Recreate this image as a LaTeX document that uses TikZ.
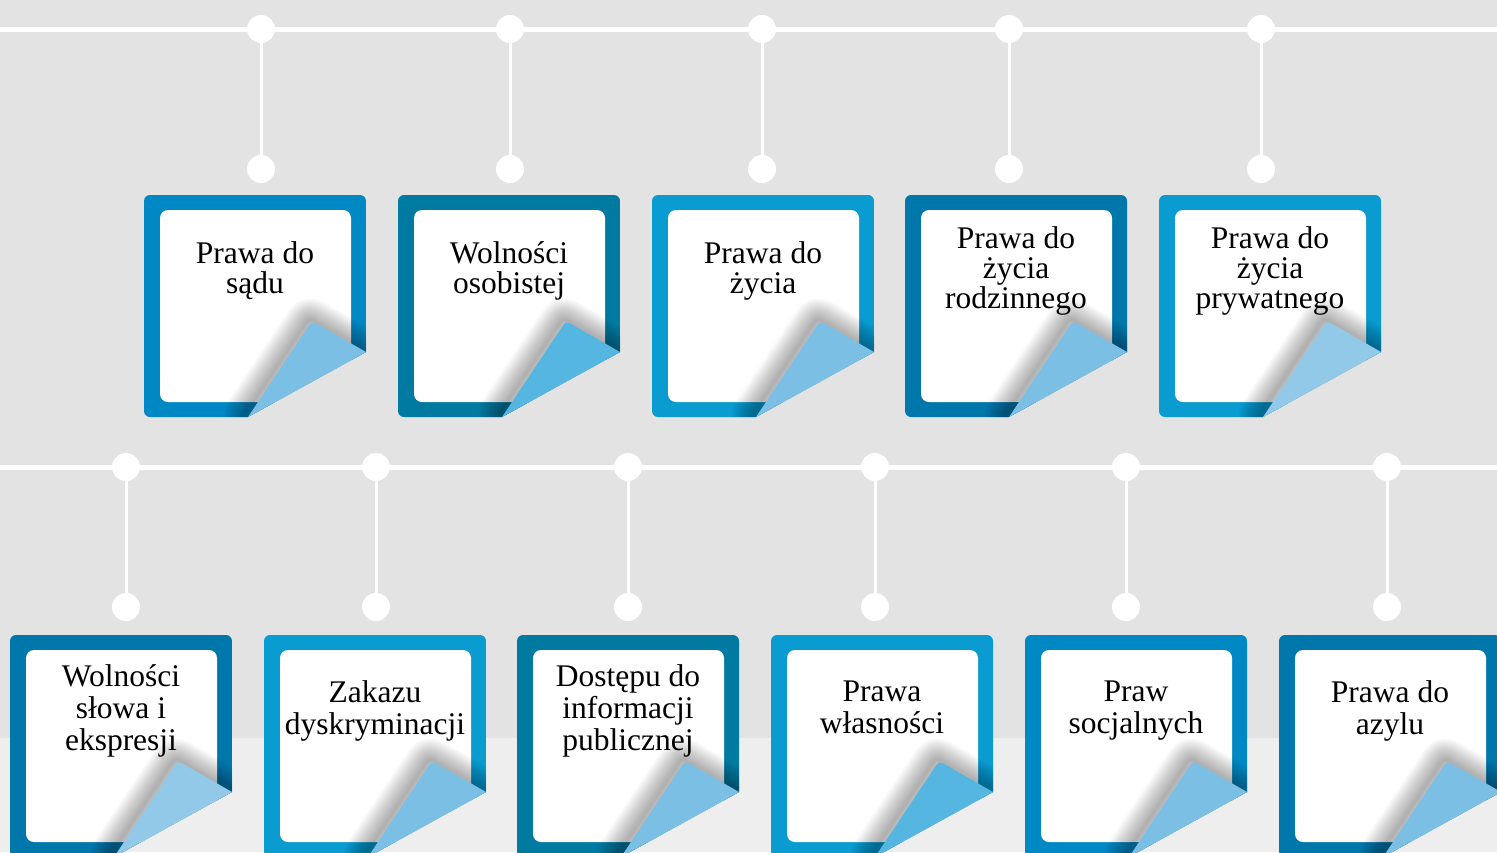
\documentclass[tikz,border=0pt]{standalone}
\usepackage{fontspec}
\setmainfont{Liberation Serif}
\usetikzlibrary{calc}
\definecolor{bgA}{HTML}{E3E3E3}
\definecolor{bgB}{HTML}{EEEEEE}
\definecolor{frMid}{HTML}{0088C4}
\definecolor{frTeal}{HTML}{007AA1}
\definecolor{frLight}{HTML}{0A9BD0}
\definecolor{frDark}{HTML}{0077AB}
\definecolor{cuA}{HTML}{7BC0E4}
\definecolor{cuB}{HTML}{56B6E2}
\definecolor{cuC}{HTML}{93C9E8}
\tikzset{
  cardframe/.style={rectangle, rounded corners=6pt, minimum width=222pt, minimum height=222pt, inner sep=0pt, draw=none},
  paper/.style={rectangle, rounded corners=8pt, minimum width=191pt, minimum height=192pt, inner sep=0pt, fill=white, draw=none},
  cardtext/.style={align=center, inner sep=0pt, text=black, execute at begin node=\strut, execute at end node=\strut},
  dot/.style={circle, fill=white, minimum size=28pt, inner sep=0pt, draw=none},
  hline/.style={white, line width=5pt},
  vline/.style={white, line width=3pt},
}
\newcommand\curlpath{(104,222) -- ($(168,126)!9pt!(104,222)$) .. controls (168,126) .. ($(168,126)!9pt!(222,157)$) -- (222,157) -- cycle}
% #1 name, #2 x, #3 y, #4 frame colour, #5 curl colour, #6 baselineskip, #7 text
\newcommand\papercard[7]{%
  \begin{scope}[shift={(#2,#3)}]
    \begin{scope}
      \clip (0,0) -- (222,0) -- (222,157) -- (104,222) -- (0,222) -- cycle;
      \node[cardframe, fill=#4] (#1) at (111,111) {};
      \node[paper] (#1-p) at (111.5,111) {};
      \begin{scope}[shift={(-3,-3)}]
        \foreach \k in {3,6,...,42} {
          \draw[black, opacity=0.022, line width=\k pt, line join=round] \curlpath;
        }
      \end{scope}
    \end{scope}
    \fill[#5] \curlpath;
    \node[cardtext, font=\fontsize{31.5}{#6}\selectfont] (#1-t) at (111,77) {#7};
  \end{scope}}
\begin{document}
\begin{tikzpicture}[x=1pt, y=-1pt]
  \useasboundingbox (0,0) rectangle (1497,852);
  \fill[bgA] (0,0) rectangle (1497,852);
  \fill[bgB] (0,738) rectangle (1497,852);
  % top timeline
  \coordinate (hl1) at (0,29);
  \coordinate (hr1) at (1497,29);
  \draw[hline] (hl1) -- (hr1);
  \foreach \i/\x in {1/261,2/510,3/762,4/1009,5/1261} {
    \node[dot] (ta\i) at (\x,29) {};
    \node[dot] (tb\i) at (\x,169) {};
    \draw[vline] (ta\i) -- (tb\i);
  }
  % bottom timeline
  \coordinate (hl2) at (0,467);
  \coordinate (hr2) at (1497,467);
  \draw[hline] (hl2) -- (hr2);
  \foreach \i/\x in {1/126,2/376,3/628,4/875,5/1126,6/1387} {
    \node[dot] (ba\i) at (\x,467) {};
    \node[dot] (bb\i) at (\x,607) {};
    \draw[vline] (ba\i) -- (bb\i);
  }
  % top cards
  \papercard{c1}{144}{195}{frMid}{cuA}{30}{Prawa do\\sądu}
  \papercard{c2}{398}{195}{frTeal}{cuB}{30}{Wolności\\osobistej}
  \papercard{c3}{652}{195}{frLight}{cuA}{30}{Prawa do\\życia}
  \papercard{c4}{905}{195}{frDark}{cuA}{30}{Prawa do\\życia\\rodzinnego}
  \papercard{c5}{1159}{195}{frLight}{cuC}{30}{Prawa do\\życia\\prywatnego}
  % bottom cards
  \papercard{d1}{10}{635}{frDark}{cuC}{32}{Wolności\\słowa i\\ekspresji}
  \papercard{d2}{264}{635}{frLight}{cuA}{32}{Zakazu\\dyskryminacji}
  \papercard{d3}{517}{635}{frTeal}{cuA}{32}{Dostępu do\\informacji\\publicznej}
  \papercard{d4}{771}{635}{frLight}{cuB}{32}{Prawa\\własności}
  \papercard{d5}{1025}{635}{frMid}{cuA}{32}{Praw\\socjalnych}
  \papercard{d6}{1279}{635}{frDark}{cuA}{32}{Prawa do\\azylu}
\end{tikzpicture}
\end{document}
